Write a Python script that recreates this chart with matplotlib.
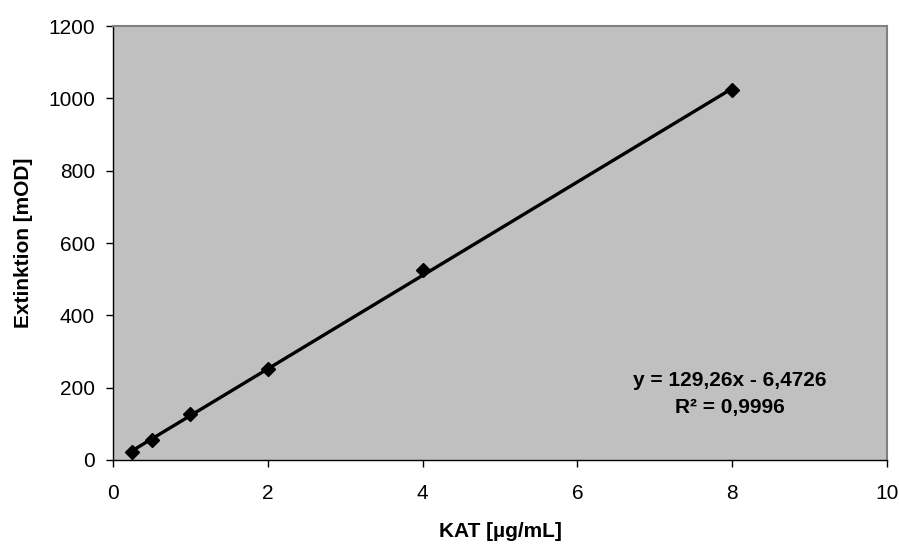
import numpy as np
import matplotlib
matplotlib.use("Agg")
import matplotlib.pyplot as plt

kat = [0.25, 0.5, 1, 2, 4, 8]
extinktion = [22, 56, 127, 251, 525, 1024]

# Trendlinie laut Excel
steigung = 129.26
achsenabschnitt = -6.4726
r2_text = "0,9996"

x_ticks = [0, 2, 4, 6, 8, 10]
y_ticks = [0, 200, 400, 600, 800, 1000, 1200]

plt.rcParams["font.family"] = ["Liberation Sans", "DejaVu Sans"]

fig = plt.figure(figsize=(8.99, 5.45), dpi=100)
ax = fig.add_axes([0.1257, 0.156, 0.861, 0.796])
ax.set_facecolor("#C0C0C0")

# Trendlinie
xl = np.array([min(kat), max(kat)])
ax.plot(xl, steigung * xl + achsenabschnitt, color="black", lw=2.4, zorder=2)
ax.plot(kat, extinktion, linestyle="none", marker="D", ms=7.5, color="black", zorder=3)

ax.set_xlim(0, 10)
ax.set_ylim(0, 1200)
ax.set_xticks(x_ticks)
ax.set_yticks(y_ticks)
ax.tick_params(direction="out", length=5, width=1, labelsize=15)
ax.tick_params(axis="x", pad=12)
ax.tick_params(axis="y", pad=8)

for s in ["left", "bottom"]:
    ax.spines[s].set_color("black")
    ax.spines[s].set_linewidth(1)
for s in ["top", "right"]:
    ax.spines[s].set_color("#808080")
    ax.spines[s].set_linewidth(1.5)

ax.set_xlabel("KAT [µg/mL]", fontsize=15, fontweight="bold", labelpad=14)
ax.set_ylabel("Extinktion [mOD]", fontsize=15, fontweight="bold", labelpad=11)

eq = "y = %sx - %s" % (str(steigung).replace(".", ","), str(-achsenabschnitt).replace(".", ","))
ax.text(7.97, 221, eq, ha="center", va="center", fontsize=15, fontweight="bold")
ax.text(7.97, 144, "R² = " + r2_text, ha="center", va="center", fontsize=15, fontweight="bold")

fig.savefig("out.png", dpi=100)
